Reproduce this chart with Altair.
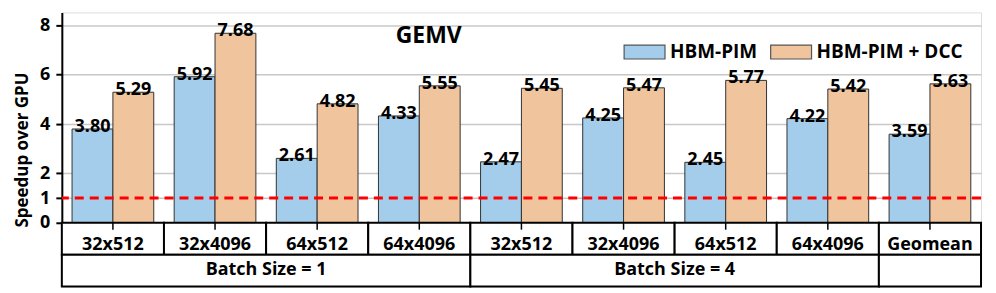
import altair as alt
import pandas as pd

# ---- data ----
categories = ["32x512", "32x4096", "64x512", "64x4096",
              "32x512", "32x4096", "64x512", "64x4096", "Geomean"]
hbm_pim = [3.80, 5.92, 2.61, 4.33, 2.47, 4.25, 2.45, 4.22, 3.59]
hbm_pim_dcc = [5.29, 7.68, 4.82, 5.55, 5.45, 5.47, 5.77, 5.42, 5.63]
series_names = ["HBM-PIM", "HBM-PIM + DCC"]
series_colors = ["#a3cdea", "#f0c49c"]
group_labels = ["Batch Size = 1", "Batch Size = 4", ""]
group_spans = [4, 4, 1]
y_ticks = [0, 1, 2, 4, 6, 8]
baseline_value = 1
chart_title = "GEMV"
y_title = "Speedup over GPU"

# ---- layout constants ----
FONT = "Open Sans"
BAR_PAD = 0.1
BAR_W = 0.4
Y_MIN = -2.586
Y_MAX = 8.525
ROW_SPLIT = -1.293
ROW1_TEXT = -0.89
ROW2_TEXT = -1.90
TICK_LEN = -0.28

# ---- tables ----
bar_rows = []
for i, cat in enumerate(categories):
    for s, vals in enumerate([hbm_pim, hbm_pim_dcc]):
        x0 = i + BAR_PAD + BAR_W * s
        bar_rows.append({"x": x0, "x2": x0 + BAR_W, "xc": x0 + BAR_W / 2,
                         "value": vals[i], "series": series_names[s], "zero": 0})
bars_df = pd.DataFrame(bar_rows)

cell_rows = []
for i, cat in enumerate(categories):
    cell_rows.append({"x": i, "x2": i + 1, "xc": i + 0.5, "y": 0, "y2": ROW_SPLIT,
                      "yt": ROW1_TEXT, "label": cat})
start = 0
for lab, span in zip(group_labels, group_spans):
    cell_rows.append({"x": start, "x2": start + span, "xc": start + span / 2,
                      "y": ROW_SPLIT, "y2": Y_MIN, "yt": ROW2_TEXT, "label": lab})
    start += span
cells_df = pd.DataFrame(cell_rows)

ticks_df = pd.DataFrame({"x": [i + 0.5 for i in range(len(categories))],
                         "y": [0] * len(categories), "y2": [TICK_LEN] * len(categories)})

xs = alt.Scale(domain=[0, len(categories)], nice=False, zero=False)
ys = alt.Scale(domain=[Y_MIN, Y_MAX], nice=False, zero=False)
yaxis = alt.Axis(
    values=y_ticks, title=y_title, grid=True, gridColor="#c8c8c8", gridWidth=1.5,
    domainColor="black", domainWidth=2, tickColor="black", tickWidth=2, tickSize=6,
    labelFont=FONT, labelFontSize=18, labelFontWeight="bold", labelColor="black",
    labelPadding=6, titleFont=FONT, titleFontSize=17, titleFontWeight="bold",
    titleColor="black", titlePadding=8)


def Y(field):
    return alt.Y(field, scale=ys, axis=yaxis)


def X(field):
    return alt.X(field, scale=xs, axis=None)


bars = alt.Chart(bars_df).mark_rect(stroke="#333333", strokeWidth=1).encode(
    x=X("x:Q"), x2="x2:Q",
    y=Y("value:Q"), y2="zero:Q",
    fill=alt.Fill("series:N", scale=alt.Scale(domain=series_names, range=series_colors),
                  legend=alt.Legend(
                      title=None, orient="top-right", direction="horizontal",
                      symbolType="M-1,-0.34H1V0.34H-1Z", symbolSize=1681,
                      symbolStrokeColor="#555555", symbolStrokeWidth=1.2,
                      symbolOpacity=1, labelFont=FONT, labelFontSize=19,
                      labelFontWeight="bold", labelColor="black", labelOffset=4,
                      columnPadding=10, offset=18)),
)

ref = alt.Chart(pd.DataFrame({"y": [baseline_value]})).mark_rule(
    color="#ff0000", strokeWidth=3, strokeDash=[9, 6]).encode(y=Y("y:Q"))

labels = alt.Chart(bars_df).mark_text(
    font=FONT, fontSize=18, fontWeight="bold", color="black",
    baseline="alphabetic", dy=3).encode(
    x=X("xc:Q"), y=Y("value:Q"),
    text=alt.Text("value:Q", format=".2f"))

cells = alt.Chart(cells_df).mark_rect(fill="white", stroke="black", strokeWidth=2).encode(
    x=X("x:Q"), x2="x2:Q", y=Y("y:Q"), y2="y2:Q")

cell_text = alt.Chart(cells_df).mark_text(
    font=FONT, fontSize=18, fontWeight="bold", color="black", baseline="middle").encode(
    x=X("xc:Q"), y=Y("yt:Q"), text="label:N")

ticks = alt.Chart(ticks_df).mark_rule(color="black", strokeWidth=1.5).encode(
    x=X("x:Q"), y=Y("y:Q"), y2="y2:Q")

title = alt.Chart(pd.DataFrame({"t": [chart_title]})).mark_text(
    font=FONT, fontSize=23, fontWeight="bold", color="black", baseline="middle").encode(
    x=alt.value(368), y=alt.value(23.5), text="t:N")

chart = alt.layer(bars, ref, labels, cells, cell_text, ticks, title).properties(
    width=922, height=275,
    padding={"left": 5, "right": 5, "top": 4, "bottom": 5},
).configure_view(stroke=None).configure(background="white")

chart.save("out.html", embed_options={"renderer": "svg", "actions": False})
